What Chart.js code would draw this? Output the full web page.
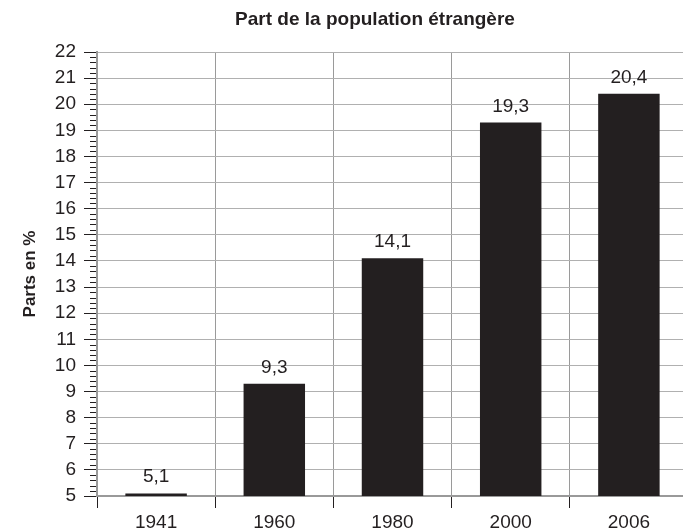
<!DOCTYPE html>
<html>
<head>
<meta charset="utf-8">
<script src="https://cdn.jsdelivr.net/npm/chart.js@4.4.1/dist/chart.umd.min.js"></script>
<style>
html,body{margin:0;padding:0;overflow:hidden;background:#fff;}
#wrap{position:relative;width:688px;height:530px;}
#title{position:absolute;left:0;width:750px;top:8px;text-align:center;font:bold 19px "Liberation Sans",Arial,sans-serif;color:#231f20;}
</style>
</head>
<body>
<div id="wrap">
<div id="title">Part de la population étrangère</div>
<canvas id="c" width="688" height="530"></canvas>
</div>
<script>
const categories = ["1941", "1960", "1980", "2000", "2006"];
const values = [5.1, 9.3, 14.1, 19.3, 20.4];
const valueLabels = ["5,1", "9,3", "14,1", "19,3", "20,4"];
const yMin = 5, yMax = 22;

const INK = "#231f20";
const FONT = "'Liberation Sans', Arial, sans-serif";

const minorTicks = {
  id: "minorTicks",
  afterDraw(chart) {
    const y = chart.scales.y, ctx = chart.ctx;
    const x0 = chart.chartArea.left;
    ctx.save();
    ctx.strokeStyle = INK;
    ctx.lineWidth = 1;
    for (let i = 0; i <= (yMax - yMin) * 5; i++) {
      if (i % 5 === 0) continue;
      const py = Math.round(y.getPixelForValue(yMin + i * 0.2)) + 0.5;
      ctx.beginPath();
      ctx.moveTo(x0 - 7, py);
      ctx.lineTo(x0 - 1, py);
      ctx.stroke();
    }
    ctx.restore();
  }
};

const barLabels = {
  id: "barLabels",
  afterDatasetsDraw(chart) {
    const meta = chart.getDatasetMeta(0), ctx = chart.ctx;
    ctx.save();
    ctx.fillStyle = INK;
    ctx.font = "19px " + FONT;
    ctx.textAlign = "center";
    ctx.textBaseline = "alphabetic";
    meta.data.forEach((bar, i) => {
      ctx.fillText(valueLabels[i], bar.x, bar.y - 11);
    });
    ctx.restore();
  }
};

new Chart(document.getElementById("c"), {
  type: "bar",
  data: {
    labels: categories,
    datasets: [{
      data: values,
      backgroundColor: INK,
      borderWidth: 0,
      barPercentage: 0.52,
      categoryPercentage: 1.0
    }]
  },
  options: {
    responsive: false,
    animation: false,
    events: [],
    layout: { padding: { top: 52, right: 0, left: 0, bottom: 0 } },
    plugins: { legend: { display: false }, tooltip: { enabled: false }, title: { display: false } },
    scales: {
      x: {
        offset: true,
        grid: { offset: true, color: "#9a9a9a", lineWidth: 1, tickColor: INK, tickLength: 12, drawTicks: true },
        border: { color: "#999999", width: 2 },
        ticks: { color: INK, font: { size: 19, family: FONT }, padding: 3, autoSkip: false, maxRotation: 0 },
        afterFit(s) { s.height = 34; }
      },
      y: {
        min: yMin, max: yMax,
        ticks: { stepSize: 1, autoSkip: false, color: INK, font: { size: 19, family: FONT }, padding: 8 },
        grid: { color: "#b0b0b0", lineWidth: 1, tickColor: INK, tickLength: 13 },
        border: { color: "#999999", width: 2 },
        title: { display: true, text: "Parts en %", color: INK, font: { size: 17, weight: "bold", family: FONT }, padding: { top: 20, bottom: 0 } },
        afterFit(s) { s.width = 97; }
      }
    }
  },
  plugins: [minorTicks, barLabels]
});
</script>
</body>
</html>
